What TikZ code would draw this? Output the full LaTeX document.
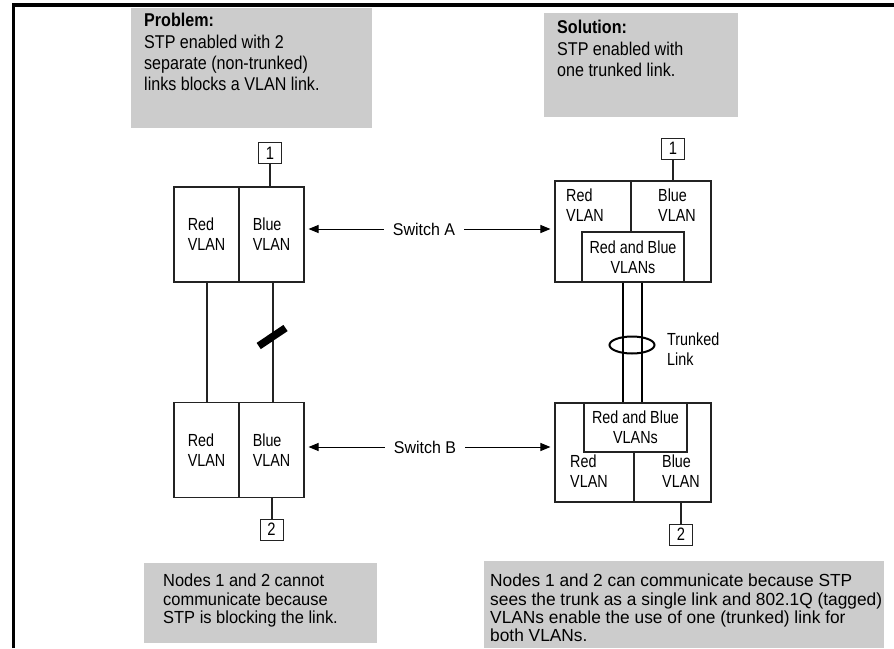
\documentclass[tikz,border=0pt]{standalone}
\usepackage{fontspec}
\setmainfont[FakeStretch=0.94]{Liberation Sans}
\newfontfamily\topfont[FakeStretch=0.87]{Liberation Sans}
\newfontfamily\widefont[FakeStretch=0.99]{Liberation Sans}
\newfontfamily\narrowfont[FakeStretch=0.82]{Liberation Sans}
\usetikzlibrary{arrows.meta,calc,shapes.geometric}
\definecolor{boxgray}{RGB}{204,204,204}
\definecolor{linegray}{RGB}{35,35,35}
\tikzset{
  boxtext/.style={anchor=north west, inner sep=0, align=left, font=\topfont\fontsize{18.5}{21}\selectfont},
  bottext/.style={anchor=north west, inner sep=0, align=left, font=\fontsize{17.5}{18.3}\selectfont},
  comp/.style={draw=linegray, line width=1.1pt, inner sep=0, minimum width=65pt, minimum height=95pt},
  lbl/.style={inner sep=0, align=left, font=\narrowfont\fontsize{17.5}{20}\selectfont},
  lblc/.style={inner sep=0, align=center, font=\narrowfont\fontsize{17.5}{20}\selectfont},
  swlbl/.style={inner sep=0, font=\fontsize{17}{20}\selectfont},
  numbox/.style={draw=linegray, line width=1pt, minimum width=23pt, minimum height=21pt, inner sep=0, fill=white, font=\narrowfont\fontsize{18}{18}\selectfont},
  link/.style={draw=linegray, line width=2pt},
  trunk/.style={draw=black, line width=2.6pt},
  arr/.style={draw=black, line width=1pt, -{Triangle[length=10pt,width=8pt]}},
}
\begin{document}
\begin{tikzpicture}[x=1pt,y=-1pt]
\useasboundingbox (0,0) rectangle (894,648);
% frame
\draw[line width=3.6pt, line cap=butt] (13.5,648) -- (13.5,4.8) -- (894,4.8);

% top boxes
\fill[boxgray] (131,8) rectangle (372,128);
\node[boxtext] (probtxt) at (144,13) {\textbf{Problem:}\\[1pt]STP enabled with 2\\separate (non-trunked)\\links blocks a VLAN link.};
\fill[boxgray] (544,13) rectangle (738,117);
\node[boxtext] (soltxt) at (557,20) {\textbf{Solution:}\\[1pt]STP enabled with\\one trunked link.};

% bottom boxes
\fill[boxgray] (144,563) rectangle (377,643);
\node[bottext] (nocomm) at (163,574) {Nodes 1 and 2 cannot\\communicate because\\STP is blocking the link.};
\fill[boxgray] (484,561) rectangle (884,648);
\node[bottext, font=\widefont\fontsize{17.5}{18.3}\selectfont] (comm) at (490,574) {Nodes 1 and 2 can communicate because STP\\sees the trunk as a single link and 802.1Q (tagged)\\VLANs enable the use of one (trunked) link for\\both VLANs.};

% ---------- left side (problem) ----------
\node[comp] (redA) at (206.5,234.5) {};
\node[comp] (blueA) at (271.5,234.5) {};
\node[comp] (redB) at (206.5,450) {};
\node[comp] (blueB) at (271.5,450) {};
\node[lbl] (redAt) at (redA) {Red\\VLAN};
\node[lbl] (blueAt) at (blueA) {Blue\\VLAN};
\node[lbl] (redBt) at (redB) {Red\\VLAN};
\node[lbl] (blueBt) at (blueB) {Blue\\VLAN};

\node[numbox] (n1L) at (270,153) {1};
\node[numbox] (n2L) at (271.5,529.5) {2};
\draw[link] (n1L.south) -- (n1L.south |- blueA.north);
\draw[link] (n2L.north |- blueB.south) -- (n2L.north);

\draw[link] (redA.south) -- (redB.north);
\draw[link] ([xshift=1pt]blueA.south) coordinate (bl1) -- (bl1 |- blueB.north);
% blocked link mark
\draw[line width=7.5pt, line cap=butt, black] (258.7,346) -- (285.5,328);

% ---------- right side (solution) ----------
\node[draw=linegray, line width=1.1pt, inner sep=0, minimum width=156pt, minimum height=101pt] (swA) at (633,231.5) {};
\node[draw=linegray, line width=1.1pt, inner sep=0, minimum width=102pt, minimum height=50pt, fill=white] (rbA) at (633,257) {};
\draw[draw=linegray, line width=1.1pt] (631,181) -- (631,232);
\node[lbl, anchor=north west] (redARt) at (566,189) {Red\\VLAN};
\node[lbl, anchor=north west] (blueARt) at (658,189) {Blue\\VLAN};
\node[lblc] (rbAt) at (rbA) {Red and Blue\\VLANs};

\node[draw=linegray, line width=1.1pt, inner sep=0, minimum width=156pt, minimum height=99pt] (swB) at (633,452.5) {};
\node[draw=linegray, line width=1.1pt, inner sep=0, minimum width=103pt, minimum height=49pt, fill=white] (rbB) at (635.5,427.5) {};
\draw[draw=linegray, line width=1.1pt] (634,452) -- (634,502);
\node[lblc] (rbBt) at (rbB) {Red and Blue\\VLANs};
\node[lbl, anchor=north west] (redBRt) at (570,455) {Red\\VLAN};
\node[lbl, anchor=north west] (blueBRt) at (662,455) {Blue\\VLAN};

\node[numbox] (n1R) at (673,148.5) {1};
\node[numbox] (n2R) at (681,534.5) {2};
\draw[link] (n1R.south) -- (n1R.south |- swA.north);
\draw[link] (n2R.north |- swB.south) -- (n2R.north);

% trunk
\coordinate (t1) at (623,282);
\coordinate (t2) at (642,282);
\draw[trunk] (t1 |- rbA.south) -- (t1 |- rbB.north);
\draw[trunk] (t2 |- rbA.south) -- (t2 |- rbB.north);
\node[draw=black, line width=2pt, ellipse, minimum width=45pt, minimum height=17pt, inner sep=0] (trk) at (632,345) {};
\node[lbl, anchor=west] (trklbl) at (667,349) {Trunked\\Link};

% ---------- switch labels ----------
\node[swlbl] (swAlbl) at (424,229) {Switch A};
\node[swlbl] (swBlbl) at (425,447) {Switch B};
\draw[arr] ([xshift=-9pt]swAlbl.west) -- ($(blueA.east |- swAlbl.west)+(4,0)$);
\draw[arr] ([xshift=9pt]swAlbl.east) -- ($(swA.west |- swAlbl.east)+(-4,0)$);
\draw[arr] ([xshift=-9pt]swBlbl.west) -- ($(blueB.east |- swBlbl.west)+(4,0)$);
\draw[arr] ([xshift=9pt]swBlbl.east) -- ($(swB.west |- swBlbl.east)+(-4,0)$);
\end{tikzpicture}
\end{document}
